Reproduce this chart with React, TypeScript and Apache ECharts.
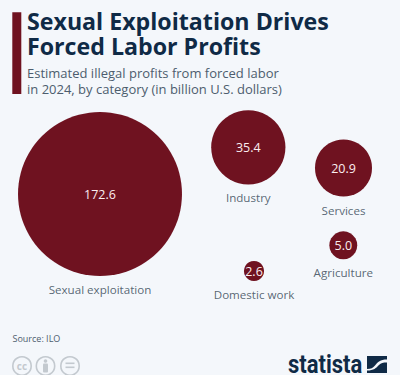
import React, { useEffect, useRef } from "react";
import * as echarts from "echarts";

const categories = ["Sexual exploitation", "Industry", "Services", "Agriculture", "Domestic work"];
const profits = [172.6, 35.4, 20.9, 5.0, 2.6];
const title = ["Sexual Exploitation Drives", "Forced Labor Profits"];
const subtitle = ["Estimated illegal profits from forced labor", "in 2024, by category (in billion U.S. dollars)"];
const source = "Source: ILO";

const bubbleLayoutX = [100, 248.3, 343.5, 343.3, 254];
const bubbleLayoutY = [194, 147.3, 168, 245.3, 271];

const MAROON = "#6f1220";
const NAVY = "#0f2a46";
const GREY = "#4d5d6e";
const BG = "#f4f7fb";
const FONT = "'Open Sans', sans-serif";
const radiusScale = 6.24;

echarts.graphic.registerShape(
  "statistaMark",
  echarts.graphic.extendPath(
    "M0 0L20 0L20 3.5C13 3.5 11 6 8 9.5C6 12 4 13 0 13ZM20 6.5L20 17L0 17L0 14.5C7 14.5 9 12 12 9C14 7 16 6.5 20 6.5Z",
    {}
  )
);

export default function App() {
  const ref = useRef<HTMLDivElement>(null);
  useEffect(() => {
    document.body.style.margin = "0";
    document.body.style.background = BG;
    const chart = echarts.init(ref.current!, null, { renderer: "svg" });
    const points = categories.map((name, i) => ({
      name,
      value: [bubbleLayoutX[i], bubbleLayoutY[i], profits[i]],
    }));
    const size = (v: number[]) => 2 * radiusScale * Math.sqrt(v[2]);
    const ccIcon = (cx: number) => ({
      type: "circle",
      shape: { cx, cy: 366, r: 9.2 },
      style: { fill: "none", stroke: "#c3c9cf", lineWidth: 1.6 },
    });
    chart.setOption({
      animation: false,
      backgroundColor: BG,
      grid: { left: 0, right: 0, top: 0, bottom: 0 },
      xAxis: { type: "value", min: 0, max: 400, show: false },
      yAxis: { type: "value", min: 0, max: 375, inverse: true, show: false },
      series: [
        {
          type: "scatter",
          data: points,
          symbolSize: size,
          itemStyle: { color: MAROON, opacity: 1 },
          label: {
            show: true,
            position: "inside",
            formatter: (p: any) => p.value[2].toFixed(1),
            color: "#fbeef0",
            fontFamily: FONT,
            fontSize: 12.5,
          },
        },
        {
          type: "scatter",
          data: points,
          symbolSize: size,
          silent: true,
          itemStyle: { color: "rgba(0,0,0,0)" },
          label: {
            show: true,
            position: "bottom",
            distance: 7.5,
            formatter: (p: any) => p.name,
            color: "#2f3f50",
            fontFamily: FONT,
            fontSize: 11.6,
          },
        },
      ],
      graphic: [
        { type: "rect", shape: { x: 12.3, y: 12.3, width: 9, height: 81.7 }, style: { fill: MAROON } },
        {
          type: "text", x: 27, y: 33.25,
          style: { text: title.join("\n"), fill: NAVY, font: `700 23.2px ${FONT}`, lineHeight: 25.5, textVerticalAlign: "middle" },
        },
        {
          type: "text", x: 27, y: 80.5,
          style: { text: subtitle.join("\n"), fill: GREY, font: `400 13px ${FONT}`, lineHeight: 16, textVerticalAlign: "middle" },
        },
        { type: "text", x: 12.5, y: 338.5, style: { text: source, fill: GREY, font: `400 9px ${FONT}`, textVerticalAlign: "middle" } },
        ccIcon(22), ccIcon(45.5), ccIcon(70),
        { type: "text", x: 22, y: 366, style: { text: "cc", fill: "#c3c9cf", font: `700 10px ${FONT}`, textAlign: "center", textVerticalAlign: "middle" } },
        { type: "circle", shape: { cx: 45.5, cy: 361, r: 1.8 }, style: { fill: "#c3c9cf" } },
        { type: "rect", shape: { x: 43, y: 363.5, width: 5, height: 9, r: 1 }, style: { fill: "#c3c9cf" } },
        { type: "rect", shape: { x: 65.5, y: 362.5, width: 9, height: 1.6 }, style: { fill: "#c3c9cf" } },
        { type: "rect", shape: { x: 65.5, y: 366.5, width: 9, height: 1.6 }, style: { fill: "#c3c9cf" } },
        { type: "text", x: 288, y: 364, scaleY: 1.14, style: { text: "statista", fill: NAVY, font: `700 22px 'Roboto', sans-serif`, lineHeight: 19, textVerticalAlign: "middle" } },
        { type: "statistaMark", x: 367, y: 356, style: { fill: NAVY } },
      ],
    });
    return () => chart.dispose();
  }, []);
  return <div ref={ref} style={{ width: 400, height: 375 }} />;
}
